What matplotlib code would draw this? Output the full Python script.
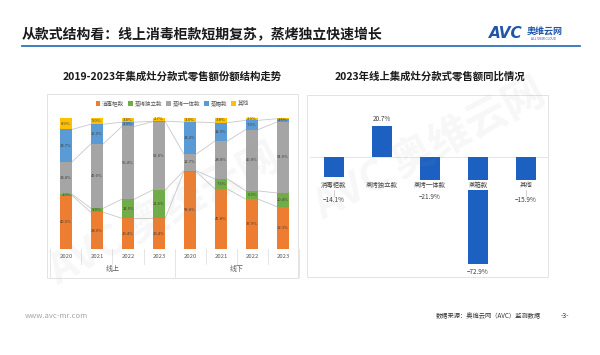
import numpy as np
import matplotlib
matplotlib.use('Agg')
import matplotlib.pyplot as plt
from matplotlib.patches import Rectangle
from matplotlib.lines import Line2D
import matplotlib.transforms as mtransforms

plt.rcParams['font.family'] = ['Noto Sans CJK SC', 'DejaVu Sans']

# 数据
styles = ['消毒柜款', '蒸烤独立款', '蒸烤一体款', '蒸箱款', '其他']
years = ['2020', '2021', '2022', '2023', '2020', '2021', '2022', '2023']
groups = ['线上', '线下']
share_xdg = [40.6, 28.0, 23.4, 23.4, 58.8, 45.8, 37.9, 32.3]
share_zkdl = [1.0, 3.0, 14.5, 21.6, 0.8, 7.6, 6.3, 10.4]
share_zkyt = [24.8, 49.0, 55.4, 52.0, 12.7, 28.8, 46.8, 54.0]
share_zx = [24.7, 15.0, 3.3, 0.3, 24.4, 14.0, 7.0, 2.5]
share_qt = [8.9, 5.0, 3.4, 2.7, 3.3, 3.8, 2.0, 0.8]
yoy = [-14.1, 20.7, -21.9, -72.9, -15.9]

colors = ['#ED7D31', '#70AD47', '#A5A5A5', '#5B9BD5', '#FFC000']
W, H = 600, 355

fig = plt.figure(figsize=(6, 3.55), dpi=100)
fig.patch.set_facecolor('white')

def fx(x):
    return x / W

def fy(y):
    return 1 - y / H

# 页眉
fig.text(fx(22), fy(35), '从款式结构看：线上消毒柜款短期复苏，蒸烤独立快速增长',
         fontsize=10, fontweight='bold', color='#1a1a1a', va='center')
fig.add_artist(Line2D([fx(22), fx(580)], [fy(45.5), fy(45.5)], color='#2F75B5', lw=1.3))
fig.text(fx(489), fy(34), 'AVC', fontsize=11, fontweight='bold', style='italic',
         color='#1F56A8', va='center', family='DejaVu Sans')
fig.text(fx(527), fy(32), '奥维云网', fontsize=6.5, fontweight='bold', color='#1F56A8', va='center')
fig.text(fx(531), fy(39.5), 'ALL VIEW CLOUD', fontsize=2.3, color='#1F56A8', va='center')

# 面板边框
for (x0, y0, x1, y1) in [(47, 94, 298, 278), (307, 95, 548, 277)]:
    fig.add_artist(Rectangle((fx(x0), fy(y1)), fx(x1 - x0), (y1 - y0) / H,
                             fill=False, ec='#e3e3e3', lw=0.7))

fig.text(fx(172), fy(76), '2019-2023年集成灶分款式零售额份额结构走势',
         fontsize=7.5, fontweight='bold', ha='center', va='center', color='#1a1a1a')
fig.text(fx(430), fy(76), '2023年线上集成灶分款式零售额同比情况',
         fontsize=7.5, fontweight='bold', ha='center', va='center', color='#1a1a1a')

# 左图：堆积柱
top_px, bot_px = 117.7, 249
ax1 = fig.add_axes([fx(48), fy(bot_px), fx(297 - 48), (bot_px - top_px) / H])
series = [share_xdg, share_zkdl, share_zkyt, share_zx, share_qt]
x = np.arange(len(years))
bw = 0.4
bottom = np.zeros(len(years))
cums = []
for name, vals, c in zip(styles, series, colors):
    vals = np.array(vals)
    ax1.bar(x, vals, bw, bottom=bottom, color=c, label=name, zorder=3)
    for xi, b, v in zip(x, bottom, vals):
        if v >= 1.0:
            ax1.text(xi, b + v / 2, f'{v:.1f}%', ha='center', va='center',
                     fontsize=3, color='#404040', zorder=4)
    bottom = bottom + vals
    cums.append(bottom.copy())
# 系列线
for cum in cums[:-1]:
    for i in range(len(x) - 1):
        ax1.plot([x[i] + bw / 2, x[i + 1] - bw / 2], [cum[i], cum[i + 1]],
                 color='#c8c8c8', lw=0.6, zorder=2)
ax1.set_xlim(-0.58, 7.45)
ax1.set_ylim(0, 100)
ax1.axis('off')
ax1.axhline(0, color='#d9d9d9', lw=0.7)
trans = mtransforms.blended_transform_factory(ax1.transData, ax1.transAxes)
hpx = bot_px - top_px
for i, yr in enumerate(years):
    ax1.text(i, -8 / hpx, yr, transform=trans, ha='center', va='center',
             fontsize=4.3, color='#595959')
for b in np.arange(-0.5, 8, 1):
    ln = 28 / hpx if b in (-0.5, 3.5, 7.5) else 15 / hpx
    ax1.plot([b, b], [0, -ln], transform=trans, color='#e0e0e0', lw=0.6, clip_on=False)
ax1.text(1.5, -19.5 / hpx, groups[0], transform=trans, ha='center', va='center',
         fontsize=5, color='#595959')
ax1.text(5.5, -19.5 / hpx, groups[1], transform=trans, ha='center', va='center',
         fontsize=5, color='#595959')
ax1.legend(loc='center', bbox_to_anchor=(fx(172), fy(103.5)), bbox_transform=fig.transFigure,
           ncol=5, fontsize=4, frameon=False, handlelength=0.8, handleheight=0.8,
           handletextpad=0.3, columnspacing=0.8, labelcolor='#595959')

# 右图：同比
zero_px, ppu = 156.7, 1.47
ax2 = fig.add_axes([fx(310), fy(277), fx(548 - 310), (277 - 100) / H])
ax2.set_ylim(-(277 - zero_px) / ppu, (zero_px - 100) / ppu)
ax2.set_xlim(-0.5, 4.46)
xr = np.arange(len(styles))
ax2.bar(xr, yoy, 0.4, color='#1C61C2', zorder=3)
ax2.axhline(0, color='#e6e6e6', lw=0.7, zorder=1)
ax2.axis('off')
cat_y = -19.3
for xi, name, v in zip(xr, styles, yoy):
    ax2.text(xi, cat_y, name, ha='center', va='center', fontsize=4.6, color='#404040',
             zorder=5, bbox=dict(boxstyle='square,pad=0.15', fc='white', ec='none'))
    if v > 0:
        ax2.text(xi, v + 4.9, f'{v:.1f}%', ha='center', va='center', fontsize=4.6, color='#404040')
    else:
        ly = v - 5.2
        if ly > -27:
            ly = -29.5
            ax2.plot([xi, xi], [cat_y - 3.5, ly + 2.8], color='#bfbfbf', lw=0.5, zorder=4)
        ax2.text(xi, ly, f'−{abs(v):.1f}%', ha='center', va='center', fontsize=4.6, color='#404040')

# 页脚
fig.text(fx(25), fy(316), 'www.avc-mr.com', fontsize=5.5, color='#a6a6a6', va='center')
fig.text(fx(541), fy(316), '数据来源：奥维云网（AVC）监测数据', fontsize=4.5,
         color='#333333', ha='right', va='center')
fig.text(fx(565), fy(316), '-3-', fontsize=5, color='#333333', ha='center', va='center')

# 水印
for (wx, wy) in [(165, 215), (430, 150)]:
    fig.text(fx(wx), fy(wy), 'AVC 奥维云网', fontsize=30, fontweight='bold', color='#9a9a9a',
             alpha=0.08, rotation=28, ha='center', va='center', zorder=10)

fig.savefig('out.png', dpi=100)
